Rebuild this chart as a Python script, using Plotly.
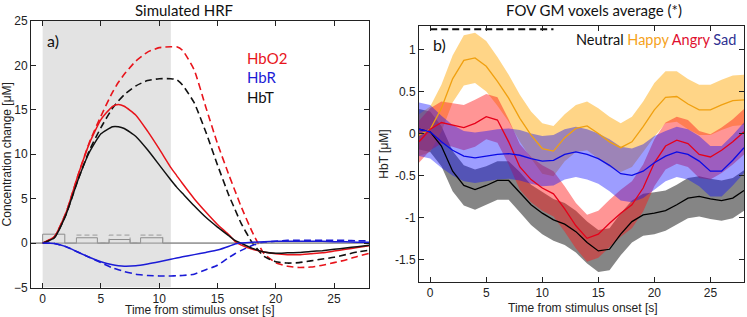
import plotly.graph_objects as go

# ---------------- Panel a) simulated HRF ----------------
t_hrf = [0, 1, 2, 3, 4, 5, 6, 6.5, 7, 8, 9, 10, 11, 11.5, 12, 13, 14, 15, 16, 16.5, 17, 18, 19, 20, 21, 22, 23, 24, 25, 26, 27, 28]
hbo2_short = [0, 0.7, 3.4, 7.5, 11.2, 13.9, 15.4, 15.6, 15.4, 14.4, 12.6, 10.6, 8.5, 7.6, 6.7, 5.0, 3.5, 2.1, 0.9, 0.2, -0.2, -0.7, -1.0, -1.2, -1.3, -1.3, -1.2, -1.1, -0.9, -0.7, -0.5, -0.3]
hbr_short = [0, -0.05, -0.4, -1.0, -1.6, -2.1, -2.45, -2.55, -2.6, -2.55, -2.35, -2.1, -1.82, -1.68, -1.55, -1.3, -1.05, -0.78, -0.35, -0.1, 0.0, 0.1, 0.15, 0.2, 0.2, 0.2, 0.2, 0.2, 0.15, 0.15, 0.1, 0.1]
hbt_short = [0, 0.6, 3.2, 7.0, 10.2, 12.3, 13.1, 13.1, 12.9, 12.0, 10.5, 8.8, 7.1, 6.3, 5.6, 4.2, 2.9, 1.8, 0.8, 0.3, 0.0, -0.6, -1.0, -1.15, -1.1, -1.05, -0.95, -0.85, -0.7, -0.55, -0.4, -0.25]
hbo2_long = [0, 0.7, 3.4, 7.5, 11.3, 14.3, 17.0, 18.1, 19.0, 20.5, 21.5, 22.0, 22.1, 22.1, 21.7, 19.5, 15.3, 11.2, 7.6, 5.9, 4.2, 1.2, -1.2, -2.2, -2.6, -2.75, -2.7, -2.5, -2.2, -1.9, -1.5, -1.15]
hbr_long = [0, -0.05, -0.4, -1.0, -1.6, -2.2, -2.8, -3.0, -3.2, -3.5, -3.65, -3.7, -3.7, -3.68, -3.65, -3.5, -3.0, -2.5, -1.6, -1.2, -0.85, -0.25, 0.1, 0.2, 0.3, 0.3, 0.3, 0.3, 0.3, 0.3, 0.25, 0.25]
hbt_long = [0, 0.6, 3.2, 7.0, 10.4, 13.0, 15.2, 16.0, 16.7, 17.7, 18.3, 18.5, 18.5, 18.4, 17.8, 15.8, 12.5, 8.8, 5.3, 3.8, 2.3, 0.0, -1.5, -2.1, -2.25, -2.2, -2.0, -1.8, -1.6, -1.3, -1.0, -0.8]

stim_t = [-1, 0, 0, 1.9, 1.9, 2.9, 2.9, 4.7, 4.7, 5.7, 5.7, 7.5, 7.5, 8.4, 8.4, 10.3, 10.3, 28]
stim_solid = [0, 0, 1.0, 1.0, 0, 0, 0.6, 0.6, 0, 0, 0.4, 0.4, 0, 0, 0.6, 0.6, 0, 0]
stim_dash_t = [2.9, 2.9, 4.7, 4.7, 5.7, 5.7, 7.5, 7.5, 8.4, 8.4, 10.3, 10.3]
stim_dash = [0, 0.9, 0.9, 0, 0, 0.9, 0.9, 0, 0, 0.9, 0.9, 0]

# ---------------- Panel b) FOV GM voxels average ----------------
t_b = list(range(-1, 29))
neutral = [0.05, 0.02, -0.15, -0.45, -0.62, -0.67, -0.62, -0.56, -0.56, -0.7, -0.85, -0.95, -1.03, -1.08, -1.17, -1.3, -1.4, -1.38, -1.2, -1.05, -0.97, -0.95, -0.92, -0.85, -0.77, -0.75, -0.78, -0.8, -0.77, -0.68]
happy = [-0.02, 0.05, 0.3, 0.65, 0.87, 0.9, 0.8, 0.62, 0.42, 0.18, -0.02, -0.18, -0.21, -0.05, 0.06, 0.09, 0.0, -0.1, -0.17, -0.1, 0.08, 0.28, 0.43, 0.44, 0.35, 0.28, 0.28, 0.34, 0.39, 0.4]
angry = [-0.1, 0.05, 0.13, 0.1, 0.07, 0.12, 0.2, 0.16, -0.1, -0.4, -0.55, -0.65, -0.72, -0.9, -1.1, -1.25, -1.2, -1.07, -0.95, -0.85, -0.65, -0.35, -0.15, -0.08, -0.12, -0.25, -0.28, -0.2, -0.1, 0.02]
sad = [0.05, 0.02, -0.1, -0.2, -0.27, -0.29, -0.27, -0.25, -0.24, -0.26, -0.3, -0.33, -0.32, -0.25, -0.22, -0.25, -0.3, -0.38, -0.48, -0.5, -0.45, -0.35, -0.27, -0.22, -0.25, -0.33, -0.45, -0.45, -0.32, -0.17]
neutral_err = [0.24, 0.24, 0.24, 0.24, 0.24, 0.24, 0.23, 0.23, 0.23, 0.24, 0.24, 0.25, 0.25, 0.25, 0.25, 0.25, 0.25, 0.25, 0.25, 0.25, 0.25, 0.25, 0.24, 0.24, 0.24, 0.24, 0.24, 0.24, 0.24, 0.24]
happy_err = [0.25, 0.27, 0.28, 0.28, 0.3, 0.3, 0.3, 0.29, 0.28, 0.28, 0.28, 0.3, 0.3, 0.28, 0.28, 0.29, 0.3, 0.3, 0.29, 0.3, 0.3, 0.32, 0.31, 0.3, 0.3, 0.3, 0.3, 0.3, 0.3, 0.3]
angry_err = [0.25, 0.25, 0.25, 0.26, 0.27, 0.28, 0.27, 0.27, 0.27, 0.27, 0.27, 0.27, 0.27, 0.27, 0.27, 0.28, 0.28, 0.28, 0.28, 0.28, 0.28, 0.28, 0.28, 0.28, 0.28, 0.28, 0.27, 0.27, 0.27, 0.27]
sad_err = [0.32, 0.32, 0.31, 0.3, 0.3, 0.3, 0.3, 0.3, 0.3, 0.3, 0.3, 0.3, 0.3, 0.3, 0.3, 0.3, 0.3, 0.31, 0.32, 0.32, 0.32, 0.32, 0.3, 0.3, 0.3, 0.3, 0.3, 0.3, 0.3, 0.3]
stim_bar_t = [0, 11]
stim_bar_y = [1.24, 1.24]

W, H = 747, 317
TICKFONT = dict(family="Liberation Sans, Arial", size=12, color="#222")
TEXTFONT = "Lato, Open Sans, sans-serif"
TITLEFONT = dict(family="Liberation Sans, Arial", size=12, color="#222")

fig = go.Figure()

# ---- panel a traces
dash_pat = "7px,4px"
for y, col in [(hbo2_long, "#e8141b"), (hbt_long, "#111111"), (hbr_long, "#1b1bd6")]:
    fig.add_trace(go.Scatter(x=t_hrf, y=y, mode="lines", line=dict(color=col, width=1.6, dash=dash_pat, shape="spline", smoothing=0.5),
                             xaxis="x", yaxis="y", showlegend=False, hoverinfo="skip"))
fig.add_trace(go.Scatter(x=stim_t, y=stim_solid, mode="lines", line=dict(color="#8c8c8c", width=1), xaxis="x", yaxis="y", showlegend=False))
fig.add_trace(go.Scatter(x=stim_dash_t, y=stim_dash, mode="lines", line=dict(color="#9a9a9a", width=1, dash="5px,3px"), xaxis="x", yaxis="y", showlegend=False))
for y, col in [(hbo2_short, "#e8141b"), (hbt_short, "#111111"), (hbr_short, "#1b1bd6")]:
    fig.add_trace(go.Scatter(x=t_hrf, y=y, mode="lines", line=dict(color=col, width=1.5, shape="spline", smoothing=0.5),
                             xaxis="x", yaxis="y", showlegend=False, hoverinfo="skip"))

# ---- panel b traces
bands = [
    (neutral, neutral_err, "rgba(0,0,0,0.48)"),
    (happy, happy_err, "rgba(255,165,0,0.47)"),
    (angry, angry_err, "rgba(255,20,20,0.45)"),
    (sad, sad_err, "rgba(10,10,255,0.40)"),
]
for m, e, fc in bands:
    upper = [a + b for a, b in zip(m, e)]
    lower = [a - b for a, b in zip(m, e)]
    fig.add_trace(go.Scatter(x=t_b + t_b[::-1], y=upper + lower[::-1], mode="lines", fill="toself", fillcolor=fc,
                             line=dict(width=0), xaxis="x2", yaxis="y2", showlegend=False, hoverinfo="skip"))
for m, col in [(neutral, "#000000"), (happy, "#f0a010"), (angry, "#e6001a"), (sad, "#0a0ae6")]:
    fig.add_trace(go.Scatter(x=t_b, y=m, mode="lines", line=dict(color=col, width=1.3), xaxis="x2", yaxis="y2", showlegend=False))
fig.add_trace(go.Scatter(x=stim_bar_t, y=stim_bar_y, mode="lines", line=dict(color="#111", width=2, dash="7px,4px"),
                         xaxis="x2", yaxis="y2", showlegend=False))

def px_x(a):
    return a / W

def px_y(a):
    return 1 - a / H

axis_common = dict(showline=True, linecolor="#222", linewidth=1, mirror="ticks", ticks="inside", ticklen=5,
                   tickcolor="#222", tickfont=TICKFONT, showgrid=False, zeroline=False)

fig.update_layout(
    width=W, height=H, margin=dict(l=0, r=0, t=0, b=0, autoexpand=False),
    paper_bgcolor="white", plot_bgcolor="white",
    xaxis=dict(domain=[px_x(31), px_x(369)], range=[-1, 28], tickvals=[0, 5, 10, 15, 20, 25],
               anchor="y", **axis_common),
    yaxis=dict(domain=[px_y(287.5), px_y(21)], range=[-5, 25], tickvals=[-5, 0, 5, 10, 15, 20, 25],
               title=dict(text="Concentration change [μM]", font=TITLEFONT, standoff=3),
               anchor="x", **axis_common),
    xaxis2=dict(domain=[px_x(419), px_x(744)], range=[-1, 28], tickvals=[0, 5, 10, 15, 20, 25],
                anchor="y2", **axis_common),
    yaxis2=dict(domain=[px_y(282), px_y(26)], range=[-1.77, 1.28], tickvals=[-1.5, -1, -0.5, 0, 0.5, 1],
                ticktext=["-1.5", "-1", "-0.5", "0", "0.5", "1"],
                title=dict(text="HbT [μM]", font=TITLEFONT, standoff=3),
                anchor="x2", **axis_common),
    shapes=[
        dict(type="rect", xref="x", yref="y", x0=0, x1=11, y0=-5, y1=25, fillcolor="#e3e3e3", line=dict(width=0), layer="below"),
        dict(type="line", xref="x", yref="y", x0=-1, x1=28, y0=0, y1=0, line=dict(color="#8c8c8c", width=1), layer="below"),
    ],
    annotations=[
        dict(text="Time from stimulus onset [s]", x=px_x(200), y=px_y(310), xref="paper", yref="paper", showarrow=False,
             font=TITLEFONT, xanchor="center", yanchor="middle"),
        dict(text="Time from stimulus onset [s]", x=px_x(583), y=px_y(308), xref="paper", yref="paper", showarrow=False,
             font=TITLEFONT, xanchor="center", yanchor="middle"),
        dict(text="Simulated HRF", x=px_x(184), y=px_y(10), xref="paper", yref="paper", showarrow=False,
             font=dict(family=TEXTFONT, size=15, color="#111"), xanchor="center", yanchor="middle"),
        dict(text="FOV GM voxels average (*)", x=px_x(594), y=px_y(10), xref="paper", yref="paper", showarrow=False,
             font=dict(family=TEXTFONT, size=15, color="#111"), xanchor="center", yanchor="middle"),
        dict(text="a)", x=px_x(45), y=px_y(41), xref="paper", yref="paper", showarrow=False,
             font=dict(family=TEXTFONT, size=16, color="#111"), xanchor="left", yanchor="middle"),
        dict(text="b)", x=px_x(431), y=px_y(44), xref="paper", yref="paper", showarrow=False,
             font=dict(family=TEXTFONT, size=16, color="#111"), xanchor="left", yanchor="middle"),
        dict(text="HbO2", x=px_x(245), y=px_y(58), xref="paper", yref="paper", showarrow=False,
             font=dict(family=TEXTFONT, size=15, color="#e8141b"), xanchor="left", yanchor="middle"),
        dict(text="HbR", x=px_x(245), y=px_y(77), xref="paper", yref="paper", showarrow=False,
             font=dict(family=TEXTFONT, size=15, color="#1b1bd6"), xanchor="left", yanchor="middle"),
        dict(text="HbT", x=px_x(245), y=px_y(97), xref="paper", yref="paper", showarrow=False,
             font=dict(family=TEXTFONT, size=15, color="#111"), xanchor="left", yanchor="middle"),
        dict(text="Neutral <span style='color:#f5a21b'>Happy</span> <span style='color:#e0102f'>Angry</span> <span style='color:#2e3192'>Sad</span>",
             x=px_x(738), y=px_y(39), xref="paper", yref="paper", showarrow=False,
             font=dict(family=TEXTFONT, size=14.5, color="#111"), xanchor="right", yanchor="middle"),
    ],
)

fig.write_html("out.html", config={"displayModeBar": False},
               post_script="document.body.style.margin='0px';document.body.style.overflow='hidden';")
